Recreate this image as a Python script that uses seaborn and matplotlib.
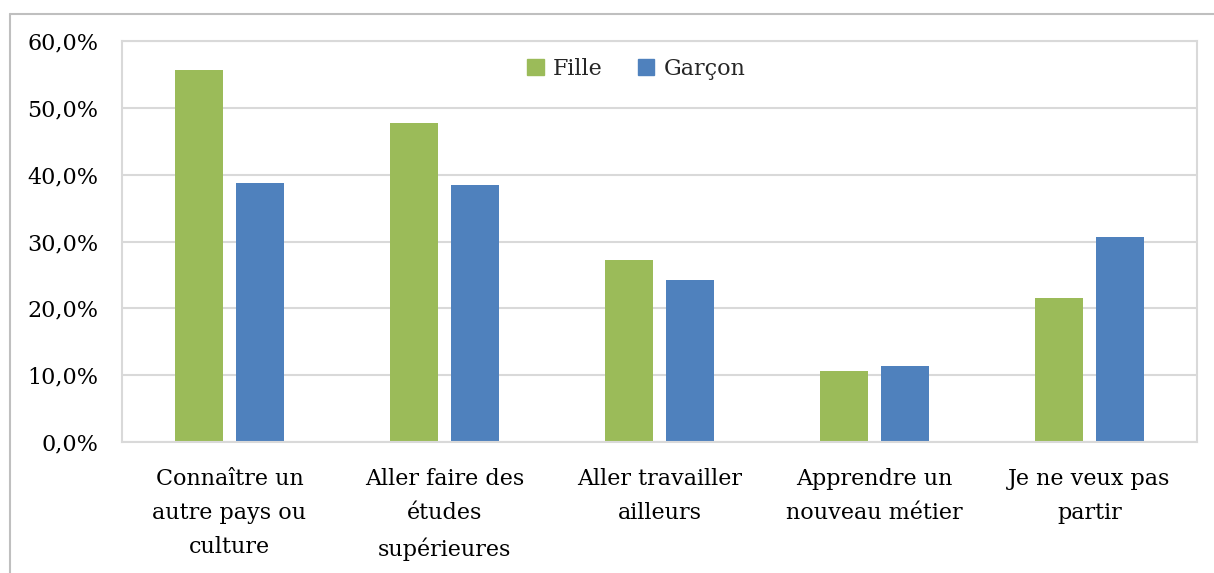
import numpy as np
import pandas as pd
import matplotlib
matplotlib.use("Agg")
import matplotlib.pyplot as plt
from matplotlib.ticker import FuncFormatter
from matplotlib.lines import Line2D
import seaborn as sns

# ---- data ----
categories = [
    "Connaître un\nautre pays ou\nculture",
    "Aller faire des\nétudes\nsupérieures",
    "Aller travailler\nailleurs",
    "Apprendre un\nnouveau métier",
    "Je ne veux pas\npartir",
]
fille  = [55.6, 47.8, 27.2, 10.6, 21.6]
garcon = [38.8, 38.4, 24.2, 11.4, 30.6]
series = ["Fille", "Garçon"]
colors = ["#9BBB59", "#4F81BD"]

df = pd.DataFrame({
    "cat": categories * 2,
    "val": fille + garcon,
    "sexe": [series[0]] * 5 + [series[1]] * 5,
})

sns.set_theme(style="white")
plt.rcParams["font.family"] = ["DejaVu Serif"]

fig = plt.figure(figsize=(12.14, 5.73), dpi=100)
ax = fig.add_axes([122 / 1214, 1 - 442 / 573, (1197 - 122) / 1214, (442 - 41) / 573])

sns.barplot(data=df, x="cat", y="val", hue="sexe", palette=colors,
            width=0.567, gap=0.213, ax=ax, legend=False, saturation=1, linewidth=0)

ax.set_ylim(0, 60)
ax.set_yticks(np.arange(0, 61, 10))
ax.yaxis.set_major_formatter(FuncFormatter(lambda v, p: f"{v:.1f}".replace(".", ",") + "%"))
ax.grid(axis="y", color="#D9D9D9", linewidth=1.5)
ax.set_axisbelow(True)
ax.set_xlabel("")
ax.set_ylabel("")
for s in ax.spines.values():
    s.set_color("#D9D9D9")
    s.set_linewidth(1.5)
ax.tick_params(axis="both", length=0, labelsize=16, colors="black")
ax.tick_params(axis="y", pad=17)
ax.tick_params(axis="x", pad=19)
for lab in ax.get_xticklabels():
    lab.set_linespacing(1.7)

# legend
handles = [plt.Rectangle((0, 0), 1, 1, color=c) for c in colors]
fig.legend(handles, series, loc="center", bbox_to_anchor=(636 / 1214, 1 - 69 / 573),
           ncol=2, frameon=False, fontsize=16, handlelength=0.75, handleheight=0.75,
           handletextpad=0.4, columnspacing=1.6)

# outer chart frame
fig.add_artist(Line2D([10 / 1214, 1], [1 - 14 / 573] * 2, color="#BFBFBF", lw=1.5,
                      transform=fig.transFigure))
fig.add_artist(Line2D([10 / 1214] * 2, [0, 1 - 14 / 573], color="#BFBFBF", lw=1.5,
                      transform=fig.transFigure))

fig.savefig("out.png", dpi=100)
